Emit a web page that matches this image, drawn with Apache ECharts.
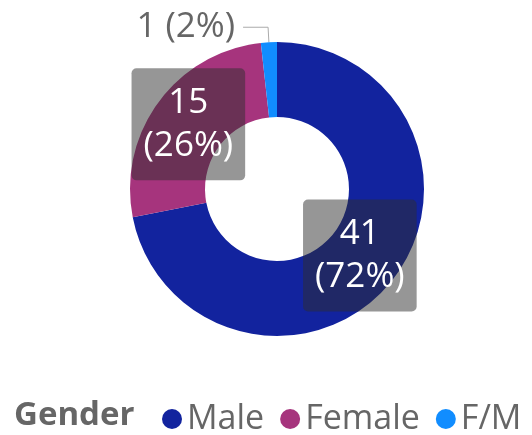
<!DOCTYPE html>
<html><head><meta charset="utf-8">
<script src="https://cdn.jsdelivr.net/npm/echarts@6/dist/echarts.min.js"></script>
<style>html,body{margin:0;padding:0;background:#fff}#c{width:532px;height:435px}</style>
</head><body><div id="c"></div>
<script>
const categories = ['Male', 'Female', 'F/M'];
const values = [41, 15, 1];
const colors = ['#12239E', '#A6347D', '#118DFF'];
const legendTitle = 'Gender';
const FONT = '"Open Sans", "Noto Sans", sans-serif';

const chart = echarts.init(document.getElementById('c'));
const data = categories.map((name, i) => {
  const item = { name, value: values[i], itemStyle: { color: colors[i] } };
  if (i === 0) {
    item.label = { offset: [-4, -5] };
  } else if (i === 1) {
    item.label = { offset: [2, 2] };
  } else {
    item.label = {
      position: 'outside',
      formatter: p => p.value + ' (' + Math.round(p.percent) + '%)',
      color: '#666', fontSize: 35, lineHeight: 40, fontFamily: FONT,
      backgroundColor: 'transparent', borderRadius: 0, padding: [0, 3, 0, 0]
    };
    item.labelLine = { show: true, length: 15, length2: 25, lineStyle: { color: '#aaa', width: 1 } };
  }
  return item;
});

chart.setOption({
  animation: false,
  graphic: [{ type: 'text', left: 14, top: 399, style: { text: legendTitle, font: 'bold 33px ' + FONT, fill: '#666' } }],
  legend: {
    left: 157, top: 397, itemGap: 16, icon: 'circle', itemWidth: 20, itemHeight: 20,
    textStyle: { fontSize: 34, color: '#666', fontFamily: FONT, padding: [0, 0, 0, 0] },
    data: categories
  },
  series: [{
    type: 'pie', center: [277, 189], radius: [72, 147], startAngle: 90, clockwise: true,
    avoidLabelOverlap: false,
    label: {
      show: true, position: 'inside',
      formatter: p => p.value + '\n(' + Math.round(p.percent) + '%)',
      color: '#fff', fontSize: 35, lineHeight: 43, fontFamily: FONT,
      backgroundColor: 'rgba(45,45,45,0.5)', borderRadius: 5, padding: [13, 12, 13, 12]
    },
    labelLine: { show: false },
    emphasis: { disabled: true },
    data
  }]
});
</script></body></html>
